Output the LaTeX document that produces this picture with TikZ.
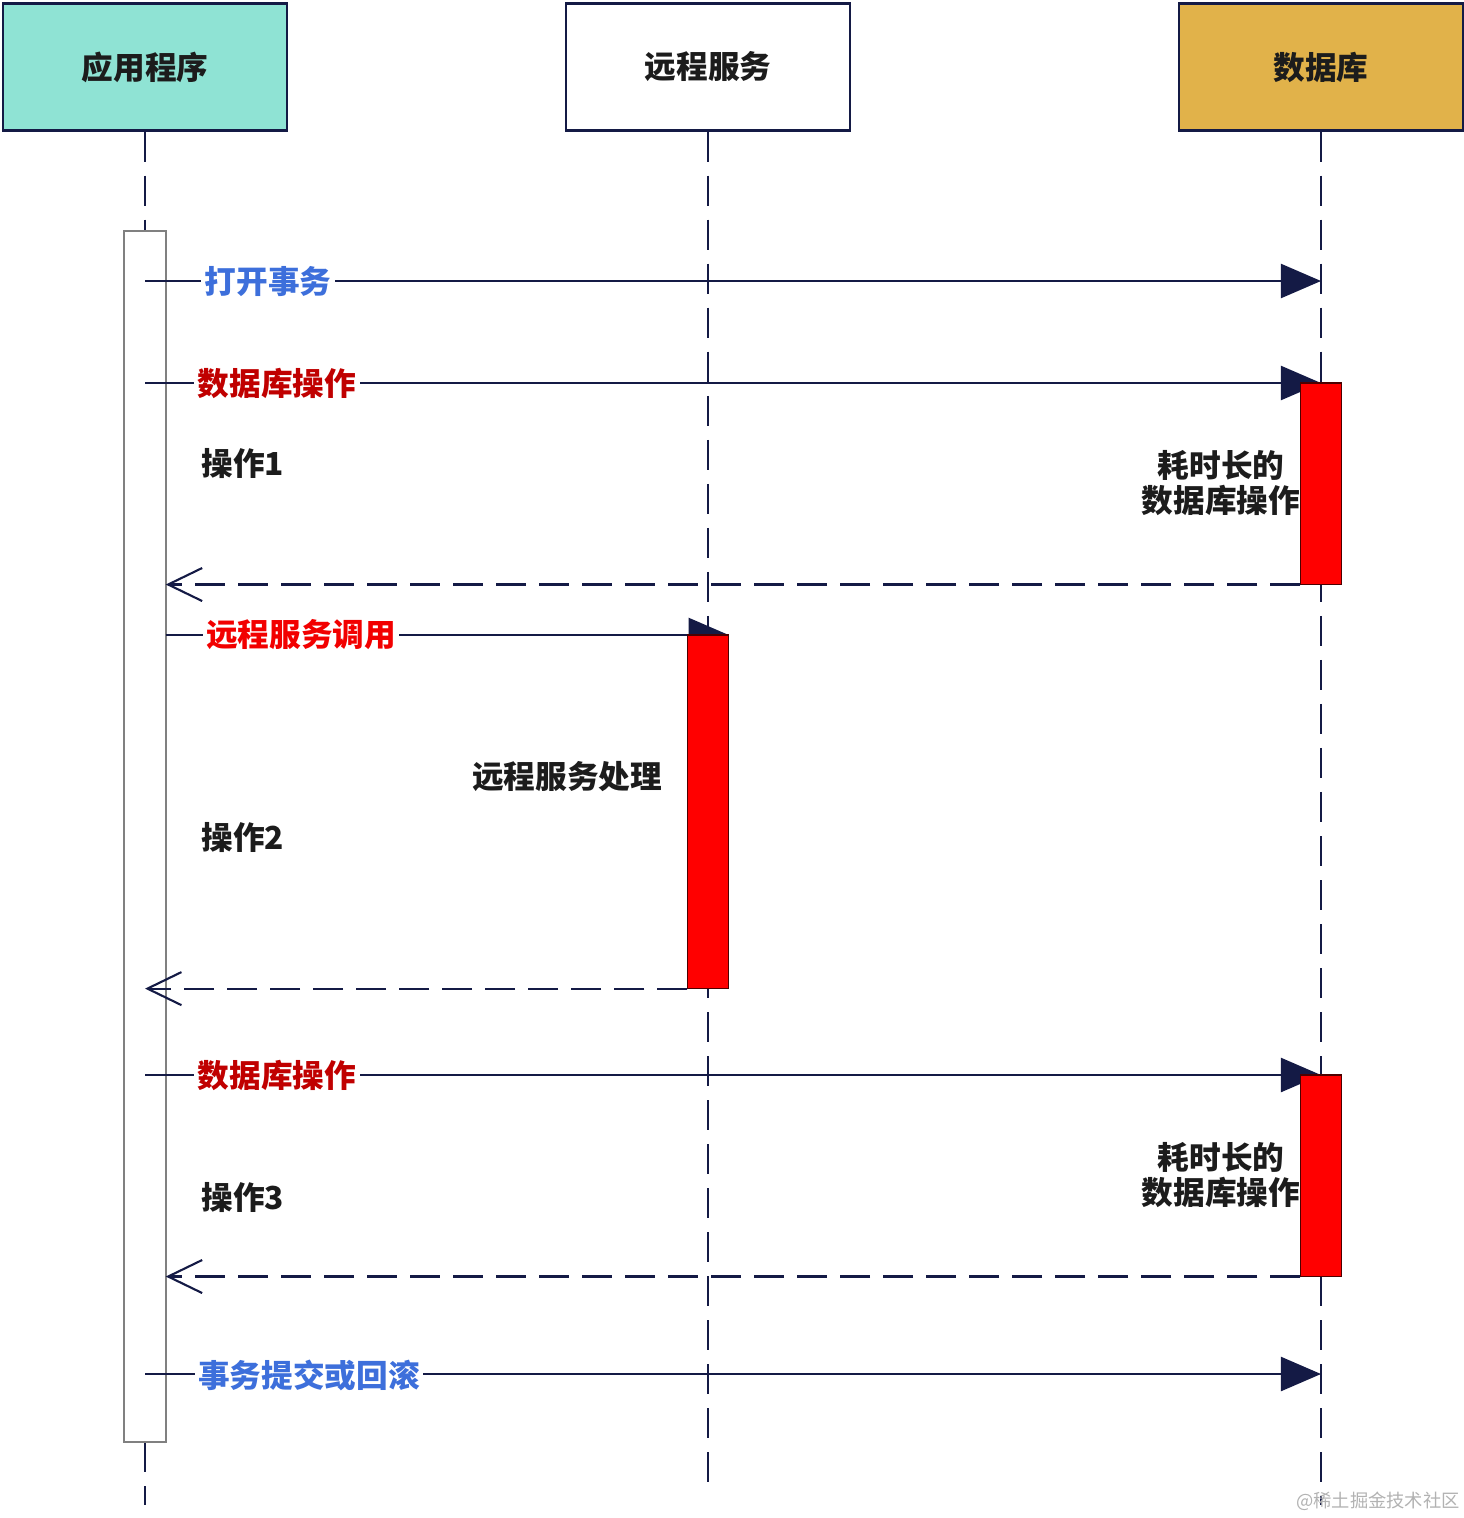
\documentclass[tikz,border=0pt]{standalone}
\usepackage{fontspec}
\newfontfamily\cjk{Noto Sans CJK SC}
\usetikzlibrary{arrows.meta,positioning}

\definecolor{appteal}{HTML}{8FE3D4}
\definecolor{dbgold}{HTML}{E1B24A}
\definecolor{navy}{HTML}{141A45}
\definecolor{txtdark}{HTML}{1C1C1C}
\definecolor{lblblue}{HTML}{3D6FDB}
\definecolor{lbldarkred}{HTML}{C00000}
\definecolor{lblred}{HTML}{F20000}
\definecolor{barred}{HTML}{FF0000}

\tikzset{
	header/.style={draw=navy, line width=0.6pt, minimum width=2.84cm, minimum height=1.27cm,
		inner sep=0pt, font=\cjk\bfseries\fontsize{9}{10}\selectfont, text=txtdark},
	lifeline/.style={draw=navy, line width=0.6pt, dash pattern=on 0.3cm off 0.14cm},
	msg/.style={draw=navy, line width=0.6pt, -{Triangle[length=0.4cm,width=0.34cm]}},
	ret/.style={draw=navy, line width=0.6pt, dash pattern=on 0.3cm off 0.13cm,
		-{Straight Barb[length=0.34cm,width=0.33cm]}},
	actbar/.style={minimum width=0.4cm, inner sep=0pt, anchor=north},
	msglbl/.style={fill=white, inner sep=1pt, font=\cjk\bfseries\fontsize{9}{10}\selectfont},
	note/.style={font=\cjk\bfseries\fontsize{9}{9.7}\selectfont, text=txtdark, align=center}
}

\begin{document}
\begin{tikzpicture}[x=0.01cm, y=-0.01cm]
	\useasboundingbox (0,0) rectangle (1464,1518);

	% Participants
	\node[header, fill=appteal] (app)    at (145,67)  {应用程序};
	\node[header, fill=white]   (remote) at (708,67)  {远程服务};
	\node[header, fill=dbgold]  (db)     at (1321,67) {数据库};

	% Lifeline ends
	\coordinate (append) at (145,1505);
	\coordinate (remend) at (708,1490);
	\coordinate (dbend)  at (1321,1505);

	% Activation of the application
	\node[actbar, draw=gray, fill=white, minimum height=12.09cm] (appact) at (145,231) {};

	% Lifelines
	\draw[lifeline] (app.south) -- (appact.north);
	\draw[lifeline] (appact.south) -- (append);
	\foreach \p/\e in {remote/remend, db/dbend} {
		\draw[lifeline] (\p.south) -- (\e);
	}
	\fill[white] (appact.north west) rectangle (appact.south east);
	\draw[gray, line width=0.6pt] (appact.north west) rectangle (appact.south east);

	% Message end points
	\coordinate (opentx)  at (1321,281);
	\coordinate (committx) at (1321,1374);

	% Open transaction
	\draw[msg] (app.south |- opentx) -- (opentx);

	% First database operation
	\node[actbar, minimum height=2cm] (dbact1) at (1321,383) {};
	\draw[msg] (app.south |- dbact1.north) -- (dbact1.north);
	\filldraw[fill=barred, draw=black!70!red, line width=0.4pt] (dbact1.north west) rectangle (dbact1.south east);
	\draw[ret] (dbact1.south west) -- (dbact1.south west -| appact.east);

	% Remote service call
	\node[actbar, minimum height=3.52cm] (remact) at (708,635) {};
	\draw[msg] (appact.east |- remact.north) -- (remact.north east);
	\filldraw[fill=barred, draw=black!70!red, line width=0.4pt] (remact.north west) rectangle (remact.south east);
	\draw[ret] (remact.south west) -- (remact.south west -| app.south);

	% Second database operation
	\node[actbar, minimum height=2cm] (dbact2) at (1321,1075) {};
	\draw[msg] (app.south |- dbact2.north) -- (dbact2.north);
	\filldraw[fill=barred, draw=black!70!red, line width=0.4pt] (dbact2.north west) rectangle (dbact2.south east);
	\draw[ret] (dbact2.south west) -- (dbact2.south west -| appact.east);

	% Commit or rollback
	\draw[msg] (app.south |- committx) -- (committx);

	% Message labels
	\node[msglbl, text=lblblue]    (lblopen)   at (268,282)  {打开事务};
	\node[msglbl, text=lbldarkred] (lbldb1)    at (277,383)  {数据库操作};
	\node[msglbl, text=lblred]     (lblremote) at (301,635)  {远程服务调用};
	\node[msglbl, text=lbldarkred] (lbldb2)    at (277,1075) {数据库操作};
	\node[msglbl, text=lblblue]    (lblcommit) at (309,1375) {事务提交或回滚};

	% Notes
	\node[note, anchor=west] (op1) at (189,463)  {操作1};
	\node[note, anchor=west] (op2) at (189,837)  {操作2};
	\node[note, anchor=west] (op3) at (189,1197) {操作3};
	\node[note] (slowdb1) at (1221,483)  {耗时长的\\数据库操作};
	\node[note] (remwork) at (567,777)   {远程服务处理};
	\node[note] (slowdb2) at (1221,1175) {耗时长的\\数据库操作};

	% Watermark
	\node[font=\cjk\fontsize{5.2}{6}\selectfont, text=gray!60] (mark) at (1378,1501) {@稀土掘金技术社区};
\end{tikzpicture}
\end{document}
